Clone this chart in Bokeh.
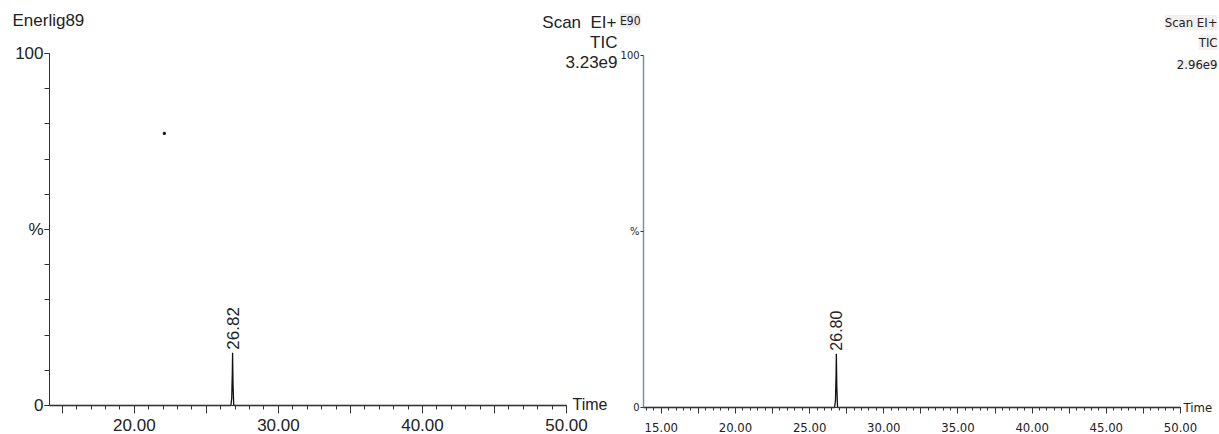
import math
from bokeh.plotting import figure
from bokeh.layouts import row
from bokeh.models import Range1d, FixedTicker, PrintfTickFormatter, Label, LinearAxis
from bokeh.embed import file_html
from bokeh.resources import INLINE

# ---------------- data ----------------
left_time = [14.11, 26.70, 26.76, 26.80, 26.82, 26.85, 26.90, 50.0]
left_pct = [0.0, 0.0, 2.0, 9.0, 15.0, 6.0, 0.0, 0.0]
left_dot_time = [22.08]
left_dot_pct = [77.3]
left_peak_rt = 26.82
left_peak_pct = 15.0
left_peak_label = "26.82"

right_time = [13.80, 26.68, 26.74, 26.78, 26.80, 26.83, 26.88, 50.0]
right_pct = [0.0, 0.0, 2.0, 9.0, 15.3, 6.0, 0.0, 0.0]
right_peak_rt = 26.80
right_peak_pct = 15.3
right_peak_label = "26.80"

left_t0, left_t1 = 14.11, 50.0
right_t0, right_t1 = 13.80, 50.0
left_xticks = [15, 20, 25, 30, 35, 40, 45, 50]
left_xminor = list(range(15, 51))
right_xticks = [15, 17.5, 20, 22.5, 25, 27.5, 30, 32.5, 35, 37.5, 40, 42.5, 45, 47.5, 50]
right_xminor = [14 + 0.5 * i for i in range(73)]
yticks = [0, 50, 100]
left_yminor = list(range(0, 101, 10))

left_sample = "Enerlig89"
right_sample = "E90"
left_header_scan = "Scan\u00a0 EI+"
right_header_scan = "Scan EI+"
header_tic = "TIC"
left_scale = "3.23e9"
right_scale = "2.96e9"

FONT_L = "Liberation Sans"
FONT_R = "DejaVu Sans Condensed"
TXT = "#222222"
AX = "#333333"
H = 434
W_LEFT = 619
W_RIGHT = 600


def key(t):
    return int(t) if float(t).is_integer() else t


def make_fig(width, t0, t1, px0, px1, py_top, py_bot):
    # frame covers whole canvas; axes are pinned with fixed_location + bounds
    sx = (px1 - px0) / (t1 - t0)
    sy = (py_bot - py_top) / 100.0
    xr = Range1d(t0 - px0 / sx, t1 + (width - px1) / sx)
    yr = Range1d(-(H - py_bot) / sy, 100 + py_top / sy)
    p = figure(width=width, height=H, x_range=xr, y_range=yr,
               x_axis_type=None, y_axis_type=None,
               output_backend="svg", toolbar_location=None,
               min_border=0, min_border_left=0, min_border_right=0,
               min_border_top=0, min_border_bottom=0)
    p.outline_line_color = None
    p.grid.visible = False
    return p


def slbl(p, text, x, py, font, size, align="left", bg=None):
    kw = dict(x=x, y=H - py, x_units="screen", y_units="screen", text=text, text_font=font,
              text_font_size=size, text_color=TXT, text_align=align,
              text_baseline="middle")
    if bg:
        kw["background_fill_color"] = bg
    p.add_layout(Label(**kw))


def peak_lbl(p, text, x, y, size, font):
    p.add_layout(Label(x=x, y=y, y_offset=3, text=text, text_font=font, text_font_size=size,
                       text_color=TXT, text_align="left", text_baseline="middle",
                       angle=math.pi / 2))


def style_axis(ax, font, size, tick_out, minor_out, standoff, line_color=AX):
    ax.major_tick_out = tick_out
    ax.major_tick_in = 0
    ax.minor_tick_out = minor_out
    ax.minor_tick_in = 0
    ax.major_label_standoff = standoff
    ax.major_label_text_font = font
    ax.major_label_text_font_size = size
    ax.major_label_text_color = TXT
    ax.axis_line_color = line_color
    ax.major_tick_line_color = AX
    ax.minor_tick_line_color = AX


# ---------------- left panel ----------------
p1 = make_fig(W_LEFT, left_t0, left_t1, 49, 566, 53, 405)

xa = LinearAxis(fixed_location=0, bounds=(left_t0, left_t1),
                ticker=FixedTicker(ticks=left_xticks, minor_ticks=left_xminor),
                formatter=PrintfTickFormatter(format="%.2f"))
xa.major_label_overrides = {key(t): "" for t in left_xticks if t % 10 != 0}
style_axis(xa, FONT_L, "17px", 8, 4, 5)
p1.add_layout(xa, "below")

ya = LinearAxis(fixed_location=left_t0, bounds=(0, 100),
                ticker=FixedTicker(ticks=yticks, minor_ticks=left_yminor))
ya.major_label_overrides = {50: "%"}
style_axis(ya, FONT_L, "17px", 5, 5, 1)
p1.add_layout(ya, "left")

p1.line(left_time, left_pct, line_color="#111111", line_width=1.3)
p1.scatter(left_dot_time, left_dot_pct, marker="square", size=2, color="#111111")

peak_lbl(p1, left_peak_label, left_peak_rt, left_peak_pct, "17px", FONT_L)
slbl(p1, left_sample, 12, 20, FONT_L, "17px")
slbl(p1, left_header_scan, 616, 21.5, FONT_L, "17px", align="right")
slbl(p1, header_tic, 617, 42, FONT_L, "17px", align="right")
slbl(p1, left_scale, 617, 61.5, FONT_L, "17px", align="right")
slbl(p1, "Time", 572, 404, FONT_L, "16px")

# ---------------- right panel (canvas starts at x = W_LEFT) ----------------
o = W_LEFT
p2 = make_fig(W_RIGHT, right_t0, right_t1, 643 - o, 1180 - o, 55, 407)

xb = LinearAxis(fixed_location=0, bounds=(right_t0, right_t1),
                ticker=FixedTicker(ticks=right_xticks, minor_ticks=right_xminor),
                formatter=PrintfTickFormatter(format="%.2f"))
xb.major_label_overrides = {key(t): "" for t in right_xticks if t % 5 != 0}
style_axis(xb, FONT_R, "13px", 6, 3, 9)
p2.add_layout(xb, "below")

yb = LinearAxis(fixed_location=right_t0, bounds=(0, 100),
                ticker=FixedTicker(ticks=yticks, minor_ticks=[]))
yb.major_label_overrides = {50: "%"}
style_axis(yb, FONT_R, "11px", 3, 0, 1, line_color="#6f93b8")
yb.axis_line_width = 1.5
p2.add_layout(yb, "left")

p2.line(right_time, right_pct, line_color="#111111", line_width=1.3)

peak_lbl(p2, right_peak_label, right_peak_rt, right_peak_pct, "16px", FONT_L)
slbl(p2, right_sample, 640 - o, 20, FONT_R, "12px", align="right", bg="#ececec")
slbl(p2, right_header_scan, 1217 - o, 22, FONT_R, "13px", align="right", bg="#f4f0f0")
slbl(p2, header_tic, 1217 - o, 42, FONT_R, "13px", align="right", bg="#f4f0f0")
slbl(p2, right_scale, 1217 - o, 64, FONT_R, "13px", align="right", bg="#f4f0f0")
slbl(p2, "Time", 1183 - o, 407, FONT_R, "13px")

layout = row(p1, p2)
open("out.html", "w").write(file_html(layout, INLINE))
